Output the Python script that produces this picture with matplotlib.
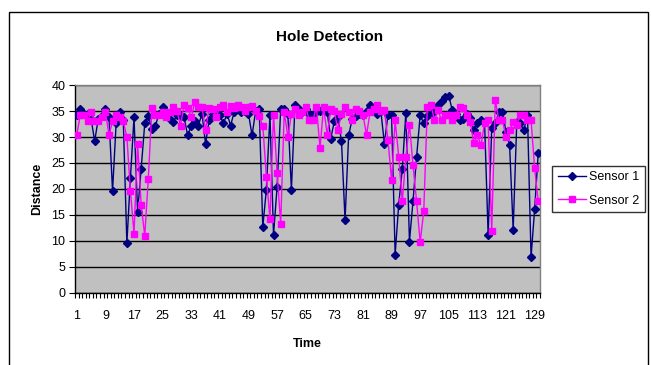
import numpy as np
import matplotlib
matplotlib.use('Agg')
import matplotlib.pyplot as plt
import matplotlib.patches as patches

plt.rcParams['font.family'] = ['Liberation Sans', 'DejaVu Sans']

# readings, one per time step (1..130)
sensor1 = [34.2, 35.3, 34.5, 34.5, 33.5, 29.2, 33.5, 34.0, 35.3, 33.8,
           19.6, 32.6, 34.8, 33.2, 9.6, 22.2, 33.8, 15.6, 23.9, 32.6,
           34.0, 31.6, 32.2, 34.5, 35.8, 34.8, 33.5, 32.9, 34.2, 34.0,
           33.8, 30.3, 32.2, 33.0, 32.2, 34.5, 28.7, 33.2, 34.5, 35.0,
           34.2, 32.6, 34.5, 32.2, 34.8, 35.5, 34.8, 35.0, 34.5, 30.3,
           35.0, 35.3, 12.7, 19.9, 34.3, 11.2, 20.4, 35.3, 35.4, 34.5,
           19.9, 36.2, 35.3, 34.8, 35.3, 34.5, 34.3, 34.8, 35.0, 35.3,
           34.8, 29.7, 33.0, 33.8, 29.2, 14.0, 30.3, 33.5, 34.0, 34.5,
           34.2, 35.0, 36.2, 35.0, 34.5, 35.0, 28.7, 34.3, 34.2, 7.4,
           17.0, 23.8, 34.7, 9.9, 17.7, 26.2, 34.2, 32.6, 34.0, 34.5,
           35.0, 36.2, 37.0, 37.6, 37.9, 35.1, 34.5, 33.2, 33.5, 34.5,
           33.7, 31.3, 32.6, 33.2, 32.9, 11.2, 31.7, 32.6, 34.8, 34.8,
           31.0, 28.4, 12.2, 32.8, 32.6, 31.3, 34.3, 6.9, 16.1, 26.9]

sensor2 = [30.4, 34.3, 34.3, 33.0, 34.8, 33.0, 33.0, 33.8, 34.9, 30.4,
           33.0, 34.3, 33.8, 33.0, 30.0, 19.6, 11.4, 28.7, 17.0, 11.0,
           22.0, 35.6, 34.3, 34.3, 34.8, 33.8, 34.8, 35.8, 35.0, 32.2,
           36.2, 35.6, 33.8, 36.7, 35.8, 35.8, 31.3, 35.6, 35.4, 33.8,
           35.8, 36.2, 34.8, 36.0, 35.5, 36.2, 35.8, 35.0, 35.8, 36.0,
           35.0, 34.0, 32.2, 22.4, 14.3, 34.3, 23.1, 13.3, 34.9, 30.0,
           34.4, 35.3, 34.3, 34.8, 35.8, 33.2, 33.2, 35.8, 27.9, 35.8,
           30.4, 35.3, 35.0, 31.3, 34.5, 35.8, 34.8, 33.2, 35.3, 35.0,
           34.3, 30.4, 34.8, 35.3, 36.2, 35.0, 35.1, 29.4, 21.7, 33.2,
           26.2, 17.6, 26.2, 32.4, 24.6, 17.6, 9.8, 15.7, 35.8, 36.2,
           33.2, 35.1, 33.2, 34.2, 34.2, 33.2, 34.3, 35.8, 35.6, 34.3,
           32.8, 28.8, 30.4, 28.4, 32.6, 33.2, 11.9, 37.1, 33.2, 33.2,
           30.0, 31.3, 32.8, 32.4, 34.3, 34.3, 33.2, 33.2, 24.0, 17.6]

time = np.arange(1, len(sensor1) + 1)
xtick_labels = [str(t) for t in range(1, 131, 8)]
ytick_values = list(range(0, 41, 5))

fig = plt.figure(figsize=(6.51, 3.65), dpi=100)
ax = fig.add_axes([0.1152, 0.1973, 0.7143, 0.5698])

# chart border (runs past the bottom edge, as in the cropped original)
fig.patches.append(patches.Rectangle((9/651, -0.05), 639/651, 1.0167,
                                     transform=fig.transFigure, fill=False,
                                     edgecolor='black', linewidth=1.0))

ax.set_facecolor('#C0C0C0')
ax.plot(time, sensor1, color='#000080', marker='D', markersize=4.4,
        linewidth=1.0, label='Sensor 1', zorder=3)
ax.plot(time, sensor2, color='#FF00FF', marker='s', markersize=4.7,
        linewidth=1.0, label='Sensor 2', zorder=3)

ax.set_xlim(0.5, len(time) + 0.5)
ax.set_ylim(0, 40)
ax.set_yticks(ytick_values)
ax.yaxis.grid(True, color='black', linewidth=1.0)
ax.set_axisbelow(True)

ax.set_xticks([int(s) for s in xtick_labels])
ax.set_xticklabels(xtick_labels)
ax.set_xticks(np.arange(0.5, len(time) + 1, 1), minor=True)
ax.tick_params(axis='x', which='major', length=0, pad=12, labelsize=9)
ax.tick_params(axis='x', which='minor', length=3.5, width=0.8, direction='out')
ax.tick_params(axis='y', which='major', length=4, width=0.8, direction='out',
               labelsize=9, pad=3)

for side in ['left', 'bottom']:
    ax.spines[side].set_color('black')
    ax.spines[side].set_linewidth(1.0)
for side in ['top', 'right']:
    ax.spines[side].set_color('#808080')
    ax.spines[side].set_linewidth(1.0)

fig.text(0.507, 0.898, 'Hole Detection', ha='center', va='center',
         fontsize=11, fontweight='bold')
ax.set_xlabel('Time', fontsize=9, fontweight='bold', labelpad=12)
ax.set_ylabel('Distance', fontsize=9, fontweight='bold', labelpad=6)

leg = ax.legend(loc='center left', bbox_to_anchor=(1.026, 0.5), frameon=True,
                fancybox=False, edgecolor='black', fontsize=9,
                handlelength=2.3, borderpad=0.45, labelspacing=0.9,
                handletextpad=0.2, borderaxespad=0)
leg.get_frame().set_linewidth(1.0)

fig.savefig('out.png', dpi=100)
